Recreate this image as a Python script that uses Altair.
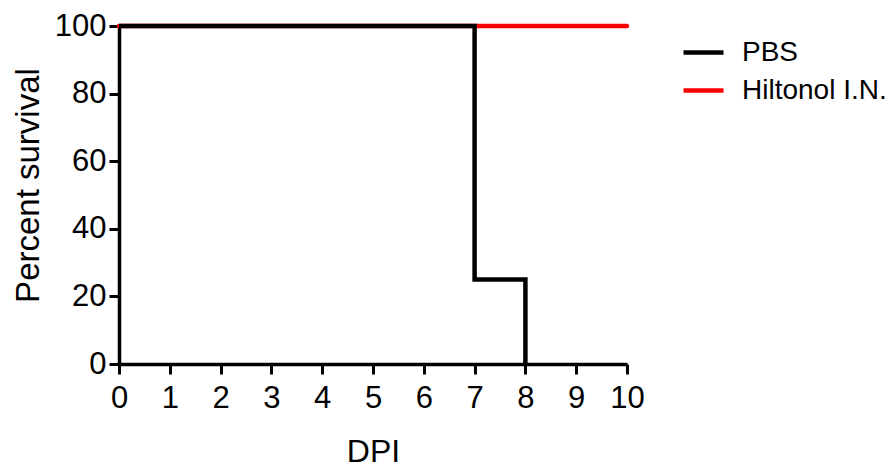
import altair as alt
import pandas as pd

# ---- data ----
groups = ["PBS", "Hiltonol I.N."]
colors = ["#000000", "#ff0000"]

pbs_dpi = [0, 7, 8]
pbs_survival = [100, 25, 0]

hil_dpi = [0, 10]
hil_survival = [100, 100]

x_ticks = [0, 1, 2, 3, 4, 5, 6, 7, 8, 9, 10]
y_ticks = [0, 20, 40, 60, 80, 100]

df_pbs = pd.DataFrame({"DPI": pbs_dpi, "Survival": pbs_survival, "Group": groups[0]})
df_hil = pd.DataFrame({"DPI": hil_dpi, "Survival": hil_survival, "Group": groups[1]})

FONT = "Liberation Sans"

x_enc = alt.X(
    "DPI:Q",
    scale=alt.Scale(domain=[0, 10], nice=False, zero=False),
    axis=alt.Axis(
        values=x_ticks,
        title="DPI",
        labelFlush=False,
        labelOverlap=False,
        labelPadding=9,
        titleBaseline="alphabetic",
        titleY=97,
        titleFontSize=32,
        format="d",
    ),
)
y_enc = alt.Y(
    "Survival:Q",
    scale=alt.Scale(domain=[0, 100], nice=False),
    axis=alt.Axis(
        values=y_ticks,
        title="Percent survival",
        labelPadding=3,
        titleAngle=270,
        titleBaseline="alphabetic",
        titleX=-81,
        titleY=159,
        format="d",
    ),
)
color_enc = alt.Color(
    "Group:N",
    scale=alt.Scale(domain=groups, range=colors),
    legend=alt.Legend(
        title=None,
        orient="none",
        legendX=562,
        legendY=4,
        symbolType="stroke",
        symbolSize=1600,
        symbolStrokeWidth=4.5,
        labelFont=FONT,
        labelFontSize=28,
        labelColor="#000000",
        labelOffset=16,
        rowPadding=1,
        padding=0,
    ),
)

hil = alt.Chart(df_hil).mark_line(
    interpolate="step-after", strokeWidth=4.5, strokeCap="round"
).encode(x=x_enc, y=y_enc, color=color_enc)

pbs = alt.Chart(df_pbs).mark_line(
    interpolate="step-after", strokeWidth=4.5, strokeCap="butt"
).encode(x=x_enc, y=y_enc, color=color_enc)

chart = (
    alt.layer(hil, pbs)
    .properties(
        width=508,
        height=338,
        autosize=alt.AutoSizeParams(type="none"),
        padding={"left": 119, "top": 26, "right": 269, "bottom": 106},
    )
    .configure_view(stroke=None)
    .configure_axis(
        grid=False,
        domainColor="#000000",
        domainWidth=3.5,
        tickColor="#000000",
        tickWidth=3,
        tickSize=10,
        labelFont=FONT,
        labelFontSize=31,
        labelColor="#000000",
        titleFont=FONT,
        titleFontSize=33,
        titleFontWeight="normal",
        titleColor="#000000",
    )
)

chart.save("out.html", embed_options={"renderer": "svg", "actions": False})
